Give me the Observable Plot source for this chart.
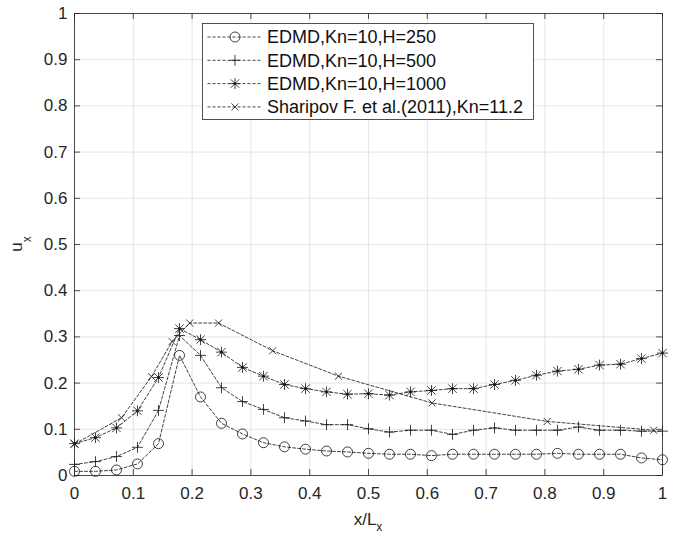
<!DOCTYPE html>
<html><head><meta charset="utf-8">
<script src="https://cdn.jsdelivr.net/npm/d3@7"></script>
<script src="https://cdn.jsdelivr.net/npm/@observablehq/plot@0.6"></script>
<style>body{margin:0;background:#fff;} svg{display:block}</style>
</head><body><div id="chart"></div>
<script>
// ---- data ----
const xEDMD = [0, 0.0357, 0.0714, 0.1071, 0.1429, 0.1786, 0.2143, 0.25, 0.2857, 0.3214,
  0.3571, 0.3929, 0.4286, 0.4643, 0.5, 0.5357, 0.5714, 0.6071, 0.6429, 0.6786,
  0.7143, 0.75, 0.7857, 0.8214, 0.8571, 0.8929, 0.9286, 0.9643, 1];
const yH250 = [0.009, 0.009, 0.012, 0.025, 0.069, 0.26, 0.17, 0.113, 0.09, 0.071,
  0.062, 0.057, 0.053, 0.051, 0.048, 0.046, 0.046, 0.043, 0.046, 0.046,
  0.046, 0.046, 0.046, 0.048, 0.046, 0.046, 0.046, 0.038, 0.034];
const yH500 = [0.024, 0.030, 0.041, 0.061, 0.141, 0.303, 0.26, 0.19, 0.16, 0.143,
  0.125, 0.118, 0.110, 0.110, 0.101, 0.094, 0.098, 0.098, 0.089, 0.098,
  0.103, 0.098, 0.098, 0.098, 0.105, 0.098, 0.098, 0.096, 0.096];
const yH1000 = [0.069, 0.082, 0.103, 0.140, 0.212, 0.318, 0.294, 0.267, 0.234, 0.215,
  0.197, 0.188, 0.181, 0.176, 0.177, 0.174, 0.181, 0.184, 0.188, 0.188,
  0.197, 0.206, 0.217, 0.226, 0.230, 0.239, 0.241, 0.253, 0.265];
const xSharipov = [0, 0.08, 0.131, 0.166, 0.196, 0.245, 0.337, 0.449, 0.608, 0.804, 0.985];
const ySharipov = [0.068, 0.125, 0.214, 0.29, 0.33, 0.33, 0.27, 0.215, 0.157, 0.117, 0.098];
const ticks = [0, 0.1, 0.2, 0.3, 0.4, 0.5, 0.6, 0.7, 0.8, 0.9, 1];
const tickLabels = ["0", "0.1", "0.2", "0.3", "0.4", "0.5", "0.6", "0.7", "0.8", "0.9", "1"];
const seriesNames = ["EDMD,Kn=10,H=250", "EDMD,Kn=10,H=500", "EDMD,Kn=10,H=1000", "Sharipov F. et al.(2011),Kn=11.2"];
const xLabel = ["x/L", "x"];
const yLabel = ["u", "x"];

// ---- build ----
const rows = (xs, ys) => xs.map((x, i) => ({x, y: ys[i]}));
const d250 = rows(xEDMD, yH250), d500 = rows(xEDMD, yH500), d1000 = rows(xEDMD, yH1000);
const dShar = rows(xSharipov, ySharipov);

const font = "'Liberation Sans', Arial, Helvetica, sans-serif";
const ink = "#262626";
const mk = "#111";
const W = 679, H = 541, mL = 74, mR = 17, mT = 13, mB = 66;
const fw = W - mL - mR, fh = H - mT - mB, tl = 6;
const lineOpt = {x: "x", y: "y", stroke: mk, strokeWidth: 0.8, strokeDasharray: "3,2"};
const rCircle = 5, rPlus = 3.6, rTimes = 3.9, rTimesS = 3.3;
const fmt = d => tickLabels[ticks.indexOf(d)];

const plot = Plot.plot({
  width: W, height: H,
  marginLeft: mL, marginRight: mR, marginTop: mT, marginBottom: mB,
  style: {fontFamily: font, fontSize: "17px", color: ink, background: "#fff"},
  x: {domain: [0, 1]},
  y: {domain: [0, 1]},
  marks: [
    Plot.gridX(ticks, {stroke: "#dedede", strokeOpacity: 1, strokeWidth: 0.8}),
    Plot.gridY(ticks, {stroke: "#dedede", strokeOpacity: 1, strokeWidth: 0.8}),
    Plot.line(d250, lineOpt),
    Plot.line(d500, lineOpt),
    Plot.line(d1000, lineOpt),
    Plot.line(dShar, lineOpt),
    Plot.dot(d250, {x: "x", y: "y", symbol: "circle", r: rCircle, stroke: mk, fill: "none", strokeWidth: 0.8}),
    Plot.dot(d500, {x: "x", y: "y", symbol: "plus", r: rPlus, stroke: mk, strokeWidth: 0.8}),
    Plot.dot(d1000, {x: "x", y: "y", symbol: "plus", r: rPlus, stroke: mk, strokeWidth: 0.8}),
    Plot.dot(d1000, {x: "x", y: "y", symbol: "times", r: rTimes, stroke: mk, strokeWidth: 0.8}),
    Plot.dot(d1000, {x: "x", y: "y", r: 1.2, fill: mk}),
    Plot.dot(dShar, {x: "x", y: "y", symbol: "times", r: rTimesS, stroke: mk, strokeWidth: 0.8}),
    Plot.frame({stroke: ink, strokeWidth: 0.8}),
    Plot.tickX(ticks, {x: d => d, insetTop: fh - tl, stroke: ink, strokeWidth: 0.8}),
    Plot.tickX(ticks, {x: d => d, insetBottom: fh - tl, stroke: ink, strokeWidth: 0.8}),
    Plot.tickY(ticks, {y: d => d, insetRight: fw - tl, stroke: ink, strokeWidth: 0.8}),
    Plot.tickY(ticks, {y: d => d, insetLeft: fw - tl, stroke: ink, strokeWidth: 0.8}),
    Plot.axisX(ticks, {tickSize: 0, tickPadding: 11, tickFormat: fmt, label: null, fill: ink}),
    Plot.axisY(ticks, {tickSize: 0, tickPadding: 7, tickFormat: fmt, label: null, fill: ink})
  ]
});
document.getElementById("chart").appendChild(plot);

// ---- axis labels and legend ----
const svg = d3.select(plot);
const xl = svg.append("text").attr("x", mL + fw / 2).attr("y", 525)
  .attr("text-anchor", "middle").attr("fill", ink)
  .style("font-family", font).style("font-size", "17px");
xl.append("tspan").text(xLabel[0]);
xl.append("tspan").attr("dy", 6).style("font-size", "12px").text(xLabel[1]);

const yl = svg.append("text").attr("transform", `translate(22,${mT + fh / 2}) rotate(-90)`)
  .attr("text-anchor", "middle").attr("fill", ink)
  .style("font-family", font).style("font-size", "17px");
yl.append("tspan").text(yLabel[0]);
yl.append("tspan").attr("dy", 9).style("font-size", "12px").text(yLabel[1]);

const lg = svg.append("g");
const bx = 202.5, by = 23.5, bw = 331, bh = 96, rowH = 23.3, row0 = 37;
lg.append("rect").attr("x", bx).attr("y", by).attr("width", bw).attr("height", bh)
  .attr("fill", "#fff").attr("stroke", ink).attr("stroke-width", 0.8);
const symDefs = [
  [[d3.symbolCircle, rCircle]],
  [[d3.symbolPlus, rPlus]],
  [[d3.symbolPlus, rPlus], [d3.symbolTimes, rTimes]],
  [[d3.symbolTimes, rTimesS]]
];
seriesNames.forEach((name, i) => {
  const cy = row0 + rowH * i;
  lg.append("line").attr("x1", bx + 5).attr("x2", bx + 60).attr("y1", cy).attr("y2", cy)
    .attr("stroke", mk).attr("stroke-width", 0.8).attr("stroke-dasharray", "3,2");
  symDefs[i].forEach(([t, r]) => {
    lg.append("path").attr("d", d3.symbol(t, Math.PI * r * r)())
      .attr("transform", `translate(${bx + 32.5},${cy})`)
      .attr("fill", "none").attr("stroke", mk).attr("stroke-width", 0.8);
  });
  if (i === 2) lg.append("circle").attr("cx", bx + 32.5).attr("cy", cy).attr("r", 1.2).attr("fill", mk);
  lg.append("text").attr("x", bx + 64.5).attr("y", cy).attr("dy", "0.35em")
    .attr("text-anchor", "start")
    .attr("fill", "#111").style("font-family", font).style("font-size", "18px").text(name);
});
</script>
</body></html>
